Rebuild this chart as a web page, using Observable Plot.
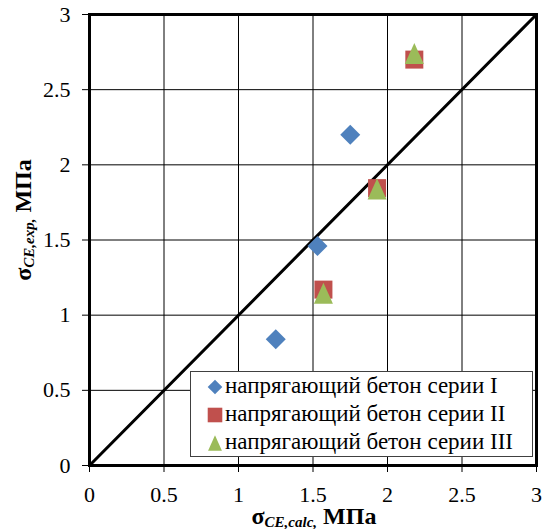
<!DOCTYPE html>
<html>
<head>
<meta charset="utf-8">
<script src="https://cdn.jsdelivr.net/npm/d3@7"></script>
<script src="https://cdn.jsdelivr.net/npm/@observablehq/plot@0.6"></script>
<style>
  html, body { margin: 0; padding: 0; background: #fff; }
  svg { display: block; }
</style>
</head>
<body>
<script>
// ---- data ----
const seriesNames = [
  "напрягающий бетон серии I",
  "напрягающий бетон серии II",
  "напрягающий бетон серии III"
];
const calcI = [1.25, 1.53, 1.75];
const expI = [0.84, 1.46, 2.20];
const calcII = [1.57, 1.93, 2.18];
const expII = [1.17, 1.845, 2.70];
const calcIII = [1.57, 1.93, 2.18];
const expIII = [1.145, 1.84, 2.74];
const tickValues = [0, 0.5, 1, 1.5, 2, 2.5, 3];
const identity = [0, 3];

const colors = ["#4F81BD", "#C0504D", "#9BBB59"];
const FONT = "Liberation Serif";

// custom symbols (size = PI r^2)
const diamondSym = {draw(ctx, size) { const r = Math.sqrt(size / Math.PI); ctx.moveTo(0, -r); ctx.lineTo(r, 0); ctx.lineTo(0, r); ctx.lineTo(-r, 0); ctx.closePath(); }};
const squareSym = {draw(ctx, size) { const r = Math.sqrt(size / Math.PI); ctx.rect(-r, -r, 2 * r, 2 * r); }};
const triangleSym = {draw(ctx, size) { const r = Math.sqrt(size / Math.PI); ctx.moveTo(0, -1.05 * r); ctx.lineTo(0.95 * r, 1.05 * r); ctx.lineTo(-0.95 * r, 1.05 * r); ctx.closePath(); }};
const symbols = [diamondSym, squareSym, triangleSym];
const sizes = [10, 9, 10];

const rows = (xs, ys) => xs.map((x, i) => ({x, y: ys[i]}));
const dataI = rows(calcI, expI);
const dataII = rows(calcII, expII);
const dataIII = rows(calcIII, expIII);
const diag = identity.map(v => ({x: v, y: v}));

const fmt = d => String(d);

const svg = Plot.plot({
  width: 542,
  height: 529,
  marginLeft: 89,
  marginRight: 6,
  marginTop: 14,
  marginBottom: 64,
  style: {fontFamily: FONT, fontSize: "22px", color: "black", background: "white"},
  x: {domain: [0, 3], label: null},
  y: {domain: [0, 3], label: null},
  marks: [
    Plot.gridX(tickValues, {stroke: "black", strokeOpacity: 1, strokeWidth: 1}),
    Plot.gridY(tickValues, {stroke: "black", strokeOpacity: 1, strokeWidth: 1}),
    Plot.axisX(tickValues, {tickSize: 7, tickPadding: 14, tickFormat: fmt, fontSize: 22, fontFamily: FONT}),
    Plot.axisY(tickValues, {tickSize: 7, tickPadding: 12, tickFormat: fmt, fontSize: 22, fontFamily: FONT}),
    Plot.line(diag, {x: "x", y: "y", stroke: "black", strokeWidth: 3}),
    Plot.dot(dataII, {x: "x", y: "y", symbol: squareSym, r: sizes[1], fill: colors[1], stroke: "none"}),
    Plot.dot(dataIII, {x: "x", y: "y", symbol: triangleSym, r: sizes[2], fill: colors[2], stroke: "none"}),
    Plot.dot(dataI, {x: "x", y: "y", symbol: diamondSym, r: sizes[0], fill: colors[0], stroke: "none"}),
    Plot.frame({stroke: "black", strokeWidth: 3})
  ]
});
document.body.appendChild(svg);

const s = d3.select(svg);
s.selectAll("text").style("font-family", FONT);

// axis titles
const xt = s.append("text")
  .attr("x", 314).attr("y", 524)
  .attr("text-anchor", "middle")
  .style("font-family", FONT).attr("font-weight", "bold").attr("font-size", 24)
  .attr("fill", "black");
xt.append("tspan").text("σ");
xt.append("tspan").attr("font-style", "italic").attr("font-size", 15).attr("dy", 3).text("CE,calc,");
xt.append("tspan").attr("dy", -3).text(" МПа");

const yt = s.append("text")
  .attr("transform", "translate(31,220) rotate(-90)")
  .attr("text-anchor", "middle")
  .style("font-family", FONT).attr("font-weight", "bold").attr("font-size", 24)
  .attr("fill", "black");
yt.append("tspan").text("σ");
yt.append("tspan").attr("font-style", "italic").attr("font-size", 15).attr("dy", 3).text("CE,exp,");
yt.append("tspan").attr("dy", -3).text(" МПа");

// legend
const lg = s.append("g");
lg.append("rect").attr("x", 190.5).attr("y", 371.5).attr("width", 342).attr("height", 85)
  .attr("fill", "white").attr("stroke", "#404040").attr("stroke-width", 1);
seriesNames.forEach((name, i) => {
  const cy = 387 + i * 28;
  lg.append("path")
    .attr("d", d3.symbol(symbols[i], Math.PI * 7.3 ** 2)())
    .attr("transform", `translate(215,${cy})`)
    .attr("fill", colors[i]);
  lg.append("text")
    .attr("x", 225).attr("y", cy + 6)
    .attr("text-anchor", "start")
    .style("font-family", FONT).attr("font-size", 23).attr("fill", "black")
    .text(name);
});
</script>
</body>
</html>
